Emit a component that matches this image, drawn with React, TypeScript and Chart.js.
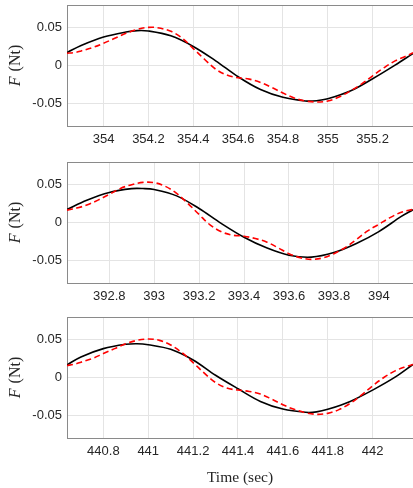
import React, { useEffect, useRef } from "react";
import { Chart, registerables } from "chart.js";

Chart.register(...registerables);

// ---- shared axis data ----
const yTicks = [-0.05, 0, 0.05];
const yTickLabels = ["-0.05", "0", "0.05"];
const yLimits = [-0.08, 0.08];
const yLabelItalic = "F";
const yLabelRest = "(Nt)";
const xTitle = "Time (sec)";

// ---- panel 1 ----
const p1Limits = [353.837, 355.38];
const p1Ticks = [354, 354.2, 354.4, 354.6, 354.8, 355, 355.2];
const p1BlackT = [353.837, 353.9, 354.0, 354.1, 354.15, 354.2, 354.3, 354.4, 354.5, 354.6, 354.7, 354.8, 354.9, 354.95, 355.0, 355.1, 355.2, 355.3, 355.38];
const p1BlackF = [0.0171, 0.0265, 0.0377, 0.0443, 0.0461, 0.0456, 0.0392, 0.0252, 0.0062, -0.0149, -0.0318, -0.0421, -0.0469, -0.0466, -0.0441, -0.0338, -0.0175, 0.0005, 0.0158];
const p1RedT = [353.837, 353.87, 353.9, 353.95, 354.0, 354.05, 354.1, 354.15, 354.2, 354.24, 354.3, 354.35, 354.4, 354.45, 354.5, 354.55, 354.6, 354.65, 354.7, 354.75, 354.8, 354.85, 354.9, 354.95, 355.0, 355.05, 355.1, 355.15, 355.2, 355.25, 355.3, 355.35, 355.38];
const p1RedF = [0.0162, 0.0171, 0.0193, 0.0237, 0.0294, 0.036, 0.0425, 0.0478, 0.0504, 0.05, 0.0452, 0.0364, 0.0224, 0.0083, -0.0048, -0.0127, -0.0163, -0.018, -0.0224, -0.029, -0.0364, -0.043, -0.0469, -0.0482, -0.0469, -0.0417, -0.0338, -0.0246, -0.0136, -0.0031, 0.0061, 0.0127, 0.0168];

// ---- panel 2 ----
const p2Limits = [392.612, 394.152];
const p2Ticks = [392.8, 393, 393.2, 393.4, 393.6, 393.8, 394];
const p2BlackT = [392.612, 392.7, 392.8, 392.9, 392.95, 393.0, 393.1, 393.2, 393.3, 393.4, 393.5, 393.6, 393.7, 393.8, 393.9, 394.0, 394.1, 394.152];
const p2BlackF = [0.0172, 0.0295, 0.0398, 0.0448, 0.0449, 0.0436, 0.0352, 0.0185, -0.0015, -0.0195, -0.0335, -0.0432, -0.0458, -0.0398, -0.0278, -0.012, 0.008, 0.0168];
const p2RedT = [392.612, 392.66, 392.7, 392.75, 392.8, 392.85, 392.9, 392.95, 393.0, 393.05, 393.1, 393.15, 393.2, 393.25, 393.3, 393.35, 393.4, 393.45, 393.5, 393.55, 393.6, 393.65, 393.7, 393.75, 393.8, 393.85, 393.9, 393.95, 394.0, 394.05, 394.1, 394.152];
const p2RedF = [0.0164, 0.0195, 0.023, 0.0296, 0.0372, 0.0451, 0.05, 0.0531, 0.0527, 0.0478, 0.0385, 0.0252, 0.0106, -0.0035, -0.0124, -0.0168, -0.0181, -0.0212, -0.0257, -0.0332, -0.0412, -0.0465, -0.0487, -0.0469, -0.0412, -0.0332, -0.0226, -0.0111, -0.0025, 0.0065, 0.0135, 0.0173];

// ---- panel 3 ----
const p3Limits = [440.638, 442.18];
const p3Ticks = [440.8, 441, 441.2, 441.4, 441.6, 441.8, 442];
const p3BlackT = [440.638, 440.7, 440.8, 440.9, 440.95, 441.0, 441.1, 441.2, 441.3, 441.4, 441.5, 441.6, 441.7, 441.75, 441.8, 441.9, 442.0, 442.1, 442.18];
const p3BlackF = [0.0167, 0.0272, 0.0382, 0.0439, 0.0447, 0.0434, 0.0373, 0.0232, 0.003, -0.0148, -0.0316, -0.0417, -0.046, -0.0455, -0.0421, -0.0316, -0.0167, 0.0004, 0.0172];
const p3RedT = [440.638, 440.67, 440.7, 440.75, 440.8, 440.85, 440.9, 440.95, 441.0, 441.05, 441.1, 441.15, 441.2, 441.25, 441.3, 441.35, 441.4, 441.45, 441.5, 441.55, 441.6, 441.65, 441.7, 441.75, 441.8, 441.85, 441.9, 441.95, 442.0, 442.05, 442.1, 442.15, 442.18];
const p3RedF = [0.0158, 0.0175, 0.0202, 0.025, 0.0316, 0.0382, 0.0447, 0.0491, 0.0509, 0.0491, 0.043, 0.0329, 0.0197, 0.0057, -0.0066, -0.014, -0.0166, -0.0184, -0.0219, -0.0285, -0.036, -0.0421, -0.0465, -0.0487, -0.0474, -0.0425, -0.0342, -0.0232, -0.011, 0.0, 0.0088, 0.0145, 0.0172];

const TEXT = "#262626";
const GRID = "#e4e4e4";
const FRAME = "#8a8a8a";
const W = 413;

type PanelProps = {
  limits: number[];
  ticks: number[];
  blackT: number[];
  blackF: number[];
  redT: number[];
  redF: number[];
  top: number;
  height: number;
  axisHeight: number;
  showTitle: boolean;
};

function Panel(props: PanelProps) {
  const ref = useRef<HTMLCanvasElement>(null);
  useEffect(() => {
    const { limits, ticks, blackT, blackF, redT, redF, axisHeight, showTitle } = props;
    const decor = {
      id: "decor",
      beforeDatasetsDraw(chart: any) {
        const { ctx, chartArea } = chart;
        ctx.save();
        ctx.strokeStyle = FRAME;
        ctx.lineWidth = 1;
        ctx.strokeRect(
          Math.round(chartArea.left) + 0.5,
          Math.round(chartArea.top) + 0.5,
          chartArea.right - chartArea.left,
          chartArea.bottom - chartArea.top
        );
        ctx.restore();
      },
      afterDraw(chart: any) {
        const { ctx, chartArea } = chart;
        ctx.save();
        ctx.fillStyle = TEXT;
        ctx.textBaseline = "middle";
        ctx.translate(16, (chartArea.top + chartArea.bottom) / 2);
        ctx.rotate(-Math.PI / 2);
        const fItal = "italic 16px 'Liberation Serif'";
        const fNorm = "16px 'Liberation Serif'";
        ctx.font = fItal;
        const w1 = ctx.measureText(yLabelItalic).width;
        ctx.font = fNorm;
        const w2 = ctx.measureText(yLabelRest).width;
        const gap = 5;
        const total = w1 + gap + w2;
        ctx.textAlign = "left";
        ctx.font = fItal;
        ctx.fillText(yLabelItalic, -total / 2, 0);
        ctx.font = fNorm;
        ctx.fillText(yLabelRest, -total / 2 + w1 + gap, 0);
        ctx.restore();
        if (showTitle) {
          ctx.save();
          ctx.fillStyle = TEXT;
          ctx.font = "15.5px 'Liberation Serif'";
          ctx.textAlign = "center";
          ctx.textBaseline = "middle";
          ctx.fillText(xTitle, (chartArea.left + W) / 2, chartArea.bottom + 39.5);
          ctx.restore();
        }
      },
    };
    const chart = new Chart(ref.current as HTMLCanvasElement, {
      type: "line",
      data: {
        datasets: [
          {
            data: redT.map((x, i) => ({ x, y: redF[i] })),
            borderColor: "#ff0000",
            borderWidth: 1.6,
            borderDash: [6, 3.5],
            pointRadius: 0,
            fill: false,
            tension: 0.35,
          },
          {
            data: blackT.map((x, i) => ({ x, y: blackF[i] })),
            borderColor: "#000000",
            borderWidth: 1.6,
            pointRadius: 0,
            fill: false,
            tension: 0.35,
          },
        ],
      },
      options: {
        responsive: false,
        animation: false,
        devicePixelRatio: 1,
        events: [],
        layout: { padding: { top: 5, left: 0, right: 0, bottom: 0 } },
        plugins: { legend: { display: false }, tooltip: { enabled: false } },
        scales: {
          x: {
            type: "linear",
            position: "bottom",
            min: limits[0],
            max: limits[1],
            afterBuildTicks: (s: any) => {
              s.ticks = ticks.map((v) => ({ value: v }));
            },
            afterFit: (s: any) => {
              s.height = axisHeight;
              s.paddingLeft = 0;
              s.paddingRight = 0;
            },
            grid: { color: GRID, lineWidth: 1, drawTicks: false },
            border: { display: false },
            ticks: {
              padding: 6,
              color: TEXT,
              maxRotation: 0,
              autoSkip: false,
              font: { family: "'Liberation Sans'", size: 13 },
              callback: (v: any) => String(v),
            },
          },
          y: {
            type: "linear",
            min: yLimits[0],
            max: yLimits[1],
            afterBuildTicks: (s: any) => {
              s.ticks = yTicks.map((v) => ({ value: v }));
            },
            afterFit: (s: any) => {
              s.width = 67;
              s.paddingTop = 0;
              s.paddingBottom = 0;
            },
            grid: { color: GRID, lineWidth: 1, drawTicks: false },
            border: { display: false },
            ticks: {
              padding: 5,
              color: TEXT,
              autoSkip: false,
              font: { family: "'Liberation Sans'", size: 13 },
              callback: (_v: any, i: number) => yTickLabels[i],
            },
          },
        },
      },
      plugins: [decor],
    } as any);
    return () => chart.destroy();
  }, []);
  return (
    <canvas
      ref={ref}
      width={W}
      height={props.height}
      style={{ position: "absolute", left: 0, top: props.top, width: W, height: props.height, display: "block" }}
    />
  );
}

export default function App() {
  return (
    <div style={{ position: "fixed", left: 0, top: 0, width: W, height: 488, background: "#fff", overflow: "hidden" }}>
      <Panel limits={p1Limits} ticks={p1Ticks} blackT={p1BlackT} blackF={p1BlackF} redT={p1RedT} redF={p1RedF} top={0} height={157} axisHeight={31} showTitle={false} />
      <Panel limits={p2Limits} ticks={p2Ticks} blackT={p2BlackT} blackF={p2BlackF} redT={p2RedT} redF={p2RedF} top={157} height={155} axisHeight={29} showTitle={false} />
      <Panel limits={p3Limits} ticks={p3Ticks} blackT={p3BlackT} blackF={p3BlackF} redT={p3RedT} redF={p3RedF} top={312} height={176} axisHeight={50} showTitle={true} />
    </div>
  );
}
